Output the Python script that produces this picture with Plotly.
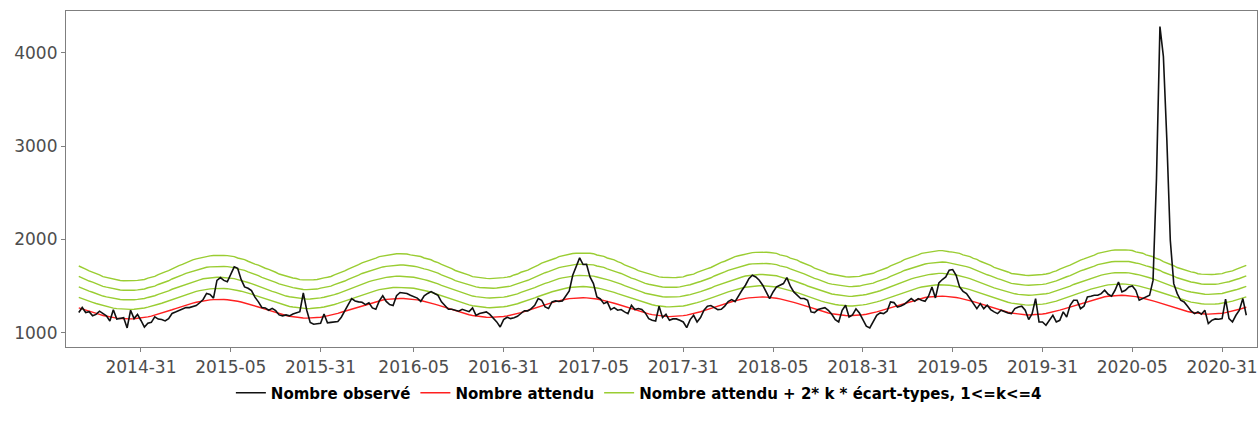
import plotly.graph_objects as go

# ISO weeks per year (categories)
weeks_per_year = {2014: 52, 2015: 53, 2016: 52, 2017: 52, 2018: 52, 2019: 52, 2020: 53}
first_week = "2014-13"
last_week = "2020-38"

tick_labels = ["2014-31", "2015-05", "2015-31", "2016-05", "2016-31", "2017-05", "2017-31",
               "2018-05", "2018-31", "2019-05", "2019-31", "2020-05", "2020-31"]

# Nombre observé (weekly), from 2014-13 to 2020-38
observed = [
    1215, 1270, 1215, 1225, 1180, 1195, 1230, 1200, 1180, 1125,
    1245, 1145, 1150, 1160, 1050, 1240, 1150, 1195, 1130, 1060,
    1100, 1110, 1170, 1145, 1140, 1125, 1150, 1205, 1220, 1235,
    1250, 1270, 1268, 1280, 1290, 1320, 1355, 1420, 1410, 1370,
    1560, 1590, 1560, 1545, 1620, 1705, 1690, 1570, 1490, 1475,
    1450, 1380, 1330, 1270, 1265, 1240, 1260, 1235, 1190, 1180,
    1190, 1180, 1200, 1215, 1225, 1425, 1240, 1110, 1090, 1095,
    1100, 1200, 1105, 1110, 1115, 1120, 1165, 1240, 1300, 1365,
    1340, 1330, 1325, 1300, 1320, 1265, 1250, 1340, 1395, 1335,
    1300, 1290, 1395, 1430, 1425, 1420, 1400, 1385, 1370, 1335,
    1395, 1420, 1440, 1420, 1400, 1330, 1290, 1250, 1250, 1240,
    1230, 1250, 1240, 1225, 1265, 1185, 1205, 1210, 1222, 1195,
    1160, 1115, 1060, 1140, 1165, 1150, 1160, 1175, 1205, 1235,
    1233, 1258, 1293, 1365, 1347, 1275, 1258, 1329, 1340, 1333,
    1340, 1400, 1447, 1615, 1712, 1801, 1730, 1733, 1597, 1526,
    1383, 1361, 1311, 1329, 1247, 1268, 1240, 1247, 1222, 1204,
    1293, 1247, 1258, 1247, 1211, 1150, 1132, 1125, 1283, 1161,
    1197, 1132, 1147, 1147, 1132, 1114, 1054, 1140, 1186, 1114,
    1161, 1240, 1283, 1290, 1268, 1247, 1250, 1283, 1333, 1354,
    1333, 1401, 1454, 1508, 1579, 1615, 1597, 1562, 1508, 1436,
    1365, 1436, 1490, 1508, 1526, 1590, 1497, 1436, 1401, 1365,
    1365, 1347, 1222, 1215, 1247, 1258, 1268, 1240, 1197, 1140,
    1114, 1240, 1293, 1168, 1190, 1255, 1210, 1140, 1070, 1050,
    1114, 1186, 1211, 1204, 1229, 1329, 1322, 1275, 1286, 1304,
    1336, 1365, 1336, 1365, 1347, 1336, 1390, 1490, 1372, 1533,
    1569, 1597, 1669, 1676, 1615, 1490, 1443, 1418, 1365, 1311,
    1257, 1311, 1257, 1293, 1247, 1222, 1204, 1240, 1222, 1211,
    1204, 1257, 1275, 1283, 1240, 1140, 1204, 1365, 1114, 1114,
    1079, 1132, 1186, 1114, 1132, 1222, 1168, 1293, 1347, 1347,
    1257, 1283, 1383, 1390, 1400, 1400, 1418, 1454, 1411, 1390,
    1454, 1543, 1436, 1454, 1490, 1500, 1454, 1347, 1365, 1383,
    1400, 1560, 2650, 4280, 3960, 3064, 1990, 1525, 1418, 1347,
    1329, 1283, 1233, 1204, 1222, 1197, 1240, 1097, 1132, 1147,
    1143, 1150, 1360, 1150, 1114, 1186, 1240, 1365, 1186,
]

# Nombre attendu (weekly)
expected_2014 = [1266, 1253, 1241, 1229, 1217, 1206, 1195, 1184, 1175, 1167, 1161, 1155, 1151, 1148,
                 1146, 1147, 1149, 1152, 1156, 1162, 1169, 1177, 1187, 1198, 1209, 1220, 1232, 1245,
                 1258, 1271, 1283, 1294, 1305, 1316, 1326, 1334, 1341, 1347, 1351, 1354]
expected_2015 = [1357, 1357, 1355, 1353, 1349, 1343, 1336, 1328, 1319, 1309, 1298, 1287, 1275, 1262,
                 1250, 1238, 1226, 1215, 1204, 1193, 1184, 1176, 1170, 1164, 1160, 1157, 1155, 1156,
                 1158, 1161, 1165, 1171, 1178, 1186, 1196, 1207, 1218, 1229, 1241, 1254, 1267, 1280,
                 1292, 1303, 1314, 1325, 1335, 1343, 1350, 1356, 1360, 1363, 1365]
expected_2016 = [1365, 1365, 1363, 1361, 1357, 1351, 1344, 1336, 1327, 1317, 1306, 1295, 1283, 1270,
                 1258, 1246, 1234, 1223, 1212, 1201, 1192, 1184, 1178, 1172, 1168, 1165, 1163, 1164,
                 1166, 1169, 1173, 1179, 1186, 1194, 1204, 1215, 1226, 1237, 1249, 1262, 1275, 1288,
                 1300, 1311, 1322, 1333, 1343, 1351, 1358, 1364, 1368, 1371]
expected_2017 = [1374, 1374, 1372, 1370, 1366, 1360, 1353, 1345, 1336, 1326, 1315, 1304, 1292, 1279,
                 1267, 1255, 1243, 1232, 1221, 1210, 1201, 1193, 1187, 1181, 1177, 1174, 1172, 1173,
                 1175, 1178, 1182, 1188, 1195, 1203, 1213, 1224, 1235, 1246, 1258, 1271, 1284, 1297,
                 1309, 1320, 1331, 1342, 1352, 1360, 1367, 1373, 1377, 1380]
expected_2018 = [1383, 1383, 1381, 1379, 1375, 1369, 1362, 1354, 1345, 1335, 1324, 1313, 1301, 1288,
                 1276, 1264, 1252, 1241, 1230, 1219, 1210, 1202, 1196, 1190, 1186, 1183, 1181, 1182,
                 1184, 1187, 1191, 1197, 1204, 1212, 1222, 1233, 1244, 1255, 1267, 1280, 1293, 1306,
                 1318, 1329, 1340, 1351, 1361, 1369, 1376, 1382, 1386, 1389]
expected_2019 = [1391, 1391, 1389, 1387, 1383, 1377, 1370, 1362, 1353, 1343, 1332, 1321, 1309, 1296,
                 1284, 1272, 1260, 1249, 1238, 1227, 1218, 1210, 1204, 1198, 1194, 1191, 1189, 1190,
                 1192, 1195, 1199, 1205, 1212, 1220, 1230, 1241, 1252, 1263, 1275, 1288, 1301, 1314,
                 1326, 1337, 1348, 1359, 1369, 1377, 1384, 1390, 1394, 1397]
expected_2020 = [1400, 1400, 1398, 1396, 1392, 1386, 1379, 1371, 1362, 1352, 1341, 1330, 1318, 1305,
                 1293, 1281, 1269, 1258, 1247, 1236, 1227, 1219, 1213, 1207, 1203, 1200, 1198, 1199,
                 1201, 1204, 1208, 1214, 1221, 1229, 1239, 1250, 1261, 1272]

# Écart-type (weekly)
sd_2014 = [56, 55, 55, 54, 54, 53, 53, 52, 52, 52, 51, 51, 51, 51, 51, 51, 51, 51, 51, 51,
           52, 52, 52, 53, 53, 54, 54, 55, 55, 56, 56, 57, 57, 58, 58, 58, 59, 59, 59, 59]
sd_2015 = [59, 59, 59, 59, 59, 59, 58, 58, 58, 57, 57, 56, 56, 55, 55, 55, 54, 54, 53, 53,
           52, 52, 52, 52, 51, 51, 51, 51, 51, 51, 52, 52, 52, 52, 53, 53, 54, 54, 55, 55,
           56, 56, 57, 57, 58, 58, 58, 59, 59, 59, 59, 60, 60]
sd_2016 = [60, 60, 60, 59, 59, 59, 59, 58, 58, 58, 57, 57, 56, 56, 55, 55, 54, 54, 53, 53,
           53, 52, 52, 52, 52, 52, 52, 52, 52, 52, 52, 52, 52, 53, 53, 54, 54, 54, 55, 55,
           56, 57, 57, 57, 58, 58, 59, 59, 59, 60, 60, 60]
sd_2017 = [60, 60, 60, 60, 60, 59, 59, 59, 58, 58, 58, 57, 57, 56, 56, 55, 55, 54, 54, 53,
           53, 53, 52, 52, 52, 52, 52, 52, 52, 52, 52, 53, 53, 53, 54, 54, 54, 55, 55, 56,
           56, 57, 57, 58, 58, 59, 59, 59, 60, 60, 60, 60]
sd_2018 = [60, 60, 60, 60, 60, 60, 59, 59, 59, 58, 58, 58, 57, 57, 56, 56, 55, 55, 54, 54,
           53, 53, 53, 53, 52, 52, 52, 52, 52, 52, 53, 53, 53, 53, 54, 54, 55, 55, 56, 56,
           57, 57, 58, 58, 59, 59, 59, 60, 60, 60, 60, 61]
sd_2019 = [61, 61, 61, 60, 60, 60, 60, 59, 59, 59, 58, 58, 57, 57, 56, 56, 55, 55, 55, 54,
           54, 53, 53, 53, 53, 53, 53, 53, 53, 53, 53, 53, 53, 54, 54, 55, 55, 56, 56, 57,
           57, 58, 58, 58, 59, 59, 60, 60, 60, 61, 61, 61]
sd_2020 = [61, 61, 61, 61, 61, 60, 60, 60, 59, 59, 59, 58, 58, 57, 57, 56, 56, 55, 55, 54,
           54, 54, 54, 53, 53, 53, 53, 53, 53, 53, 53, 54, 54, 54, 55, 55, 55, 56]

k_values = [1, 2, 3, 4]

# ---- build categories ----
all_weeks = []
for year, n in weeks_per_year.items():
    for w in range(1, n + 1):
        all_weeks.append(f"{year}-{w:02d}")
weeks = all_weeks[all_weeks.index(first_week): all_weeks.index(last_week) + 1]

expected = (expected_2014 + expected_2015 + expected_2016 + expected_2017 +
            expected_2018 + expected_2019 + expected_2020)
sd = sd_2014 + sd_2015 + sd_2016 + sd_2017 + sd_2018 + sd_2019 + sd_2020

assert len(weeks) == len(observed) == len(expected) == len(sd), (len(weeks), len(observed), len(expected), len(sd))

BLACK = "#111111"
RED = "#ff2020"
GREEN = "#9ACD32"

fig = go.Figure()

for j, k in enumerate(k_values):
    fig.add_trace(go.Scatter(
        x=weeks, y=[e + 2 * k * s for e, s in zip(expected, sd)],
        mode="lines", line=dict(color=GREEN, width=1.4),
        name="Nombre attendu + 2* k * écart-types, 1<=k<=4",
        legendgroup="band", showlegend=(j == 0), legendrank=3,
        hoverinfo="skip",
    ))

fig.add_trace(go.Scatter(
    x=weeks, y=expected, mode="lines", line=dict(color=RED, width=1.4),
    name="Nombre attendu", legendrank=2,
))
fig.add_trace(go.Scatter(
    x=weeks, y=observed, mode="lines", line=dict(color=BLACK, width=1.6),
    name="Nombre observé", legendrank=1,
))

axis_common = dict(
    showgrid=False, zeroline=False, showline=True, mirror=True,
    linecolor="#7f7f7f", linewidth=1.2, automargin=False,
    ticks="outside", ticklen=4, tickcolor="#7f7f7f", tickwidth=1,
    tickfont=dict(family="DejaVu Sans", size=17, color="#4d4d4d"),
)

fig.update_xaxes(type="category", tickmode="array", tickvals=tick_labels, ticktext=tick_labels,
                 range=[-3.7, 341.1], **axis_common)
fig.update_yaxes(range=[846, 4447], tickvals=[1000, 2000, 3000, 4000], **axis_common)

fig.update_layout(
    width=1258, height=428,
    margin=dict(l=66, r=1, t=11, b=81),
    paper_bgcolor="white", plot_bgcolor="white",
    showlegend=True,
    legend=dict(
        orientation="h", x=0.481, xanchor="center", y=-0.137, yanchor="middle",
        font=dict(family="DejaVu Sans", size=15, color="black", weight="bold"),
        itemwidth=30, bgcolor="rgba(0,0,0,0)",
    ),
)

fig.write_html(
    "out.html",
    config={"displayModeBar": False},
    post_script="document.body.style.margin='0px';document.body.style.overflow='hidden';",
)
